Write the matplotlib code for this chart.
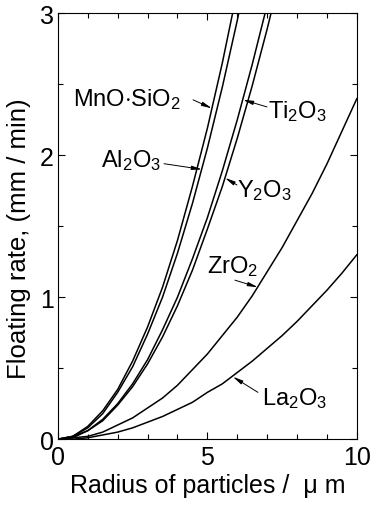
import matplotlib
matplotlib.use('Agg')
import matplotlib.pyplot as plt
from matplotlib.ticker import MultipleLocator

plt.rcParams['font.family'] = ['Liberation Sans', 'DejaVu Sans']
plt.rcParams['mathtext.fontset'] = 'custom'
plt.rcParams['mathtext.rm'] = 'Liberation Sans'
plt.rcParams['mathtext.it'] = 'Liberation Sans'
plt.rcParams['mathtext.default'] = 'rm'

# particle radius (um) and floating rate (mm/min)
r_mno = [0, 0.5, 1.0, 1.5, 2.0, 2.5, 3.0, 3.5, 4.0, 4.5, 5.0, 5.5, 6.0]
v_mno = [0, 0.02, 0.09, 0.20, 0.35, 0.55, 0.79, 1.07, 1.40, 1.78, 2.19, 2.65, 3.16]

r_al = [0, 0.5, 1.0, 1.5, 2.0, 2.5, 3.0, 3.5, 4.0, 4.5, 5.0, 5.5, 6.0, 6.5]
v_al = [0, 0.02, 0.08, 0.18, 0.33, 0.51, 0.74, 1.00, 1.31, 1.66, 2.05, 2.48, 2.95, 3.46]

r_ti = [0, 0.5, 1.0, 1.5, 2.0, 2.5, 3.0, 3.5, 4.0, 4.5, 5.0, 5.5, 6.0, 6.5, 7.0]
v_ti = [0, 0.02, 0.06, 0.14, 0.25, 0.39, 0.56, 0.77, 1.00, 1.27, 1.56, 1.89, 2.25, 2.64, 3.06]

r_y = [0, 0.5, 1.0, 1.5, 2.0, 2.5, 3.0, 3.5, 4.0, 4.5, 5.0, 5.5, 6.0, 6.5, 7.0, 7.5]
v_y = [0, 0.01, 0.06, 0.13, 0.24, 0.37, 0.53, 0.72, 0.94, 1.19, 1.48, 1.78, 2.12, 2.49, 2.89, 3.32]

r_zr = [0, 0.5, 1.0, 1.5, 2.0, 2.5, 3.0, 3.5, 4.0, 4.5, 5.0,
        5.5, 6.0, 6.5, 7.0, 7.5, 8.0, 8.5, 9.0, 9.5, 10.0]
v_zr = [0, 0.01, 0.02, 0.05, 0.10, 0.15, 0.22, 0.29, 0.38, 0.49, 0.60,
        0.73, 0.86, 1.01, 1.18, 1.35, 1.54, 1.73, 1.94, 2.17, 2.40]

r_la = [0, 0.5, 1.0, 1.5, 2.0, 2.5, 3.0, 3.5, 4.0, 4.5, 5.0,
        5.5, 6.0, 6.5, 7.0, 7.5, 8.0, 8.5, 9.0, 9.5, 10.0]
v_la = [0, 0.00, 0.01, 0.03, 0.05, 0.08, 0.12, 0.16, 0.21, 0.26, 0.33,
        0.39, 0.47, 0.55, 0.64, 0.73, 0.83, 0.94, 1.05, 1.17, 1.30]

fig = plt.figure(figsize=(3.73, 5.06), dpi=100)
ax = fig.add_axes([0.155, 0.130, 0.802, 0.842])

for r, v in [(r_mno, v_mno), (r_al, v_al), (r_ti, v_ti),
             (r_y, v_y), (r_zr, v_zr), (r_la, v_la)]:
    ax.plot(r, v, color='black', lw=1.1, solid_capstyle='round')

ax.set_xlim(0, 10)
ax.set_ylim(0, 3)
ax.xaxis.set_major_locator(MultipleLocator(5))
ax.xaxis.set_minor_locator(MultipleLocator(1))
ax.yaxis.set_major_locator(MultipleLocator(1))
ax.yaxis.set_minor_locator(MultipleLocator(0.5))
ax.tick_params(which='both', direction='in', top=True, right=True,
               width=0.8, labelsize=18)
ax.tick_params(which='major', length=5)
ax.tick_params(which='minor', length=3.5)
ax.tick_params(axis='x', pad=4)
ax.tick_params(axis='y', pad=3)
for s in ax.spines.values():
    s.set_linewidth(0.8)

ax.set_xlabel('Radius of particles /  \u03bc m', fontsize=18, labelpad=3)
ax.set_ylabel('Floating rate, (mm / min)', fontsize=18.5)
ax.yaxis.set_label_coords(-0.09, 0.474)

# compound labels with their pointer arrows
labels = [
    ('MnO$\\cdot$SiO$_2$', (0.50, 2.35), (4.52, 2.39), (5.15, 2.33)),
    ('Ti$_2$O$_3$', (7.02, 2.27), (6.99, 2.34), (6.19, 2.39)),
    ('Al$_2$O$_3$', (1.44, 1.92), (3.55, 1.94), (4.82, 1.90)),
    ('Y$_2$O$_3$', (5.99, 1.71), (5.99, 1.79), (5.59, 1.84)),
    ('ZrO$_2$', (4.98, 1.18), (5.92, 1.12), (6.69, 1.07)),
    ('La$_2$O$_3$', (6.82, 0.25), (6.69, 0.33), (5.85, 0.44)),
]
for txt, pos, start, tip in labels:
    ax.text(pos[0], pos[1], txt, fontsize=17, ha='left', va='baseline')
    ax.annotate('', xy=tip, xytext=start,
                arrowprops=dict(arrowstyle='-|>,head_length=0.6,head_width=0.12',
                                color='black', lw=0.7, shrinkA=0, shrinkB=0))

fig.savefig('out.png', dpi=100)
